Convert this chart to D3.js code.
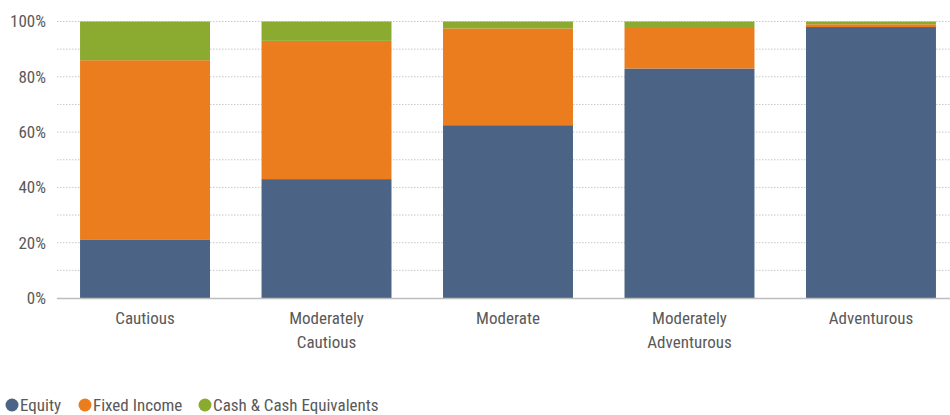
<!DOCTYPE html>
<html>
<head>
<meta charset="utf-8">
<title>Allocation</title>
<style>
  body { margin: 0; background: #fff; }
  text { font-family: "Liberation Sans Narrow", "Roboto Condensed", "DejaVu Sans", sans-serif; font-stretch: condensed; fill: #595959; }
</style>
</head>
<body>
<svg></svg>
<script src="https://d3js.org/d3.v7.min.js"></script>
<script>
var categories = ['Cautious', 'Moderately Cautious', 'Moderate', 'Moderately Adventurous', 'Adventurous'];
var equity = [21, 43, 62.5, 83, 98];
var fixedIncome = [65, 50, 35, 15, 1];
var cash = [14, 7, 2.5, 2, 1];
var seriesNames = ['Equity', 'Fixed Income', 'Cash & Cash Equivalents'];
var colors = ['#4b6485', '#eb7d1e', '#8aab30'];
var yTicks = [0, 20, 40, 60, 80, 100];

var width = 950, height = 415;
var svg = d3.select('svg').attr('width', width).attr('height', height);

var rows = categories.map((c, i) => ({ cat: c, Equity: equity[i], 'Fixed Income': fixedIncome[i], 'Cash & Cash Equivalents': cash[i] }));
var stacked = d3.stack().keys(seriesNames)(rows);

var x = d3.scaleBand().domain(categories).range([57, 959]).paddingInner(0.284).paddingOuter(0.127);
var y = d3.scaleLinear().domain([0, 100]).range([298, 21.5]);

// dotted grid every 10%
svg.append('g').selectAll('line')
    .data(d3.range(10, 101, 10))
    .join('line')
    .attr('x1', 57).attr('x2', width)
    .attr('y1', d => y(d)).attr('y2', d => y(d))
    .attr('stroke', '#c8c8c8')
    .attr('stroke-dasharray', '1.5,1.5');

svg.append('g').selectAll('g')
    .data(stacked)
    .join('g')
    .attr('fill', (d, i) => colors[i])
    .selectAll('rect')
    .data(d => d)
    .join('rect')
    .attr('x', d => x(d.data.cat))
    .attr('width', x.bandwidth())
    .attr('y', d => y(d[1]))
    .attr('height', d => y(d[0]) - y(d[1]));

// baseline
svg.append('line')
    .attr('x1', 57).attr('x2', width)
    .attr('y1', y(0) + 0.5).attr('y2', y(0) + 0.5)
    .attr('stroke', '#bdbdbd').attr('stroke-width', 1.5);

// y labels
svg.append('g').selectAll('text')
    .data(yTicks)
    .join('text')
    .attr('x', 46)
    .attr('y', d => y(d))
    .attr('dy', '0.35em')
    .attr('text-anchor', 'end')
    .style('font-size', '17px')
    .text(d => d + '%');

// x labels
var xl = svg.append('g').selectAll('text')
    .data(categories)
    .join('text')
    .attr('text-anchor', 'middle')
    .style('font-size', '17px')
    .attr('transform', d => `translate(${x(d) + x.bandwidth() / 2},324)`);
xl.selectAll('tspan')
    .data(d => d.split(' '))
    .join('tspan')
    .attr('x', 0)
    .attr('dy', (d, i) => i ? 24 : 0)
    .text(d => d);

// legend
var lx = [12, 85, 205];
var leg = svg.append('g').selectAll('g')
    .data(seriesNames)
    .join('g')
    .attr('transform', (d, i) => `translate(${lx[i]},405)`);
leg.append('circle').attr('r', 6.5).attr('fill', (d, i) => colors[i]);
leg.append('text').attr('x', 8).attr('dy', '0.35em').style('font-size', '17px').text(d => d);
</script>
</body>
</html>
